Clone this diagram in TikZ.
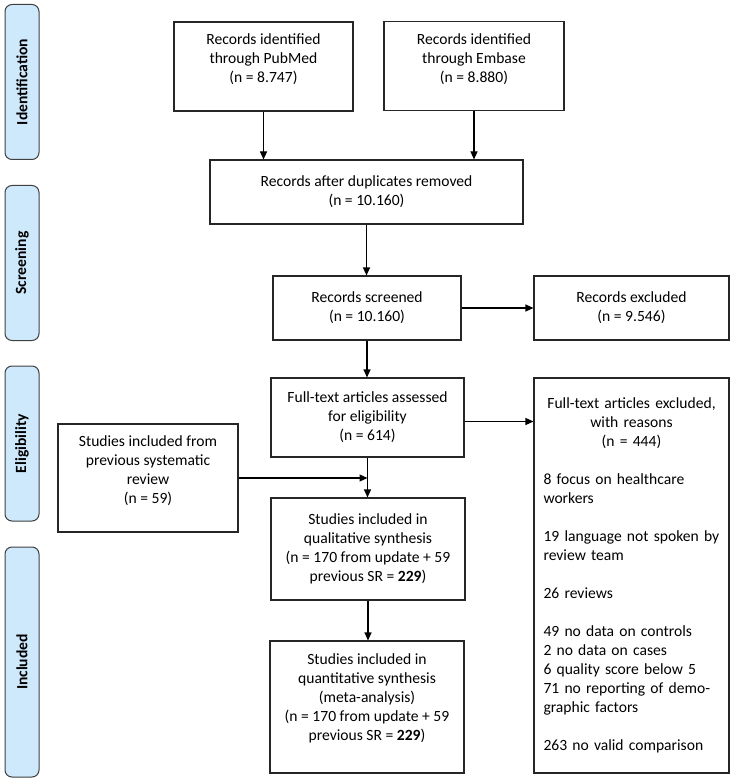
\documentclass[tikz,border=0pt]{standalone}
\usepackage{fontspec}
\setmainfont{Carlito}
\usepackage{tikz}
\usetikzlibrary{positioning}
\usetikzlibrary{arrows.meta}
\definecolor{phaseblue}{RGB}{206,232,252}
\newcommand{\midline}[1]{\makebox[176pt]{#1}}

\begin{document}
\begin{tikzpicture}[x=1pt, y=-1pt,
  box/.style={draw=black!85, line width=1.1pt, align=center, inner sep=0pt, font=\fontsize{15.6}{19}\selectfont},
  phase/.style={draw=black!75, line width=1pt, fill=phaseblue, rounded corners=7pt, rotate=90, minimum width=155pt, minimum height=34pt, inner sep=0pt, font=\fontsize{15.6}{19}\selectfont\bfseries},
  flow/.style={->, >={Triangle[length=8pt,width=7pt]}, line width=1.1pt, color=black}]
\useasboundingbox (0,0) rectangle (735,783);

\node(I)[phase] at (22,82) {Identification};
\node(S)[phase] at (22,263) {Screening};
\node(E)[phase] at (22,443.5) {Eligibility};
\node(N)[phase, minimum width=230pt] at (22,662) {Included};

\node(pub)[box, minimum width=179pt, minimum height=89pt] at (263.5,66.5) {Records identified\\through PubMed\\(n = 8.747)\\[-8pt]\strut};
\node(emb)[box, minimum width=180pt, minimum height=89pt] at (474,66) {Records identified\\through Embase\\(n = 8.880)\\[-8pt]\strut};
\node(dup)[box, minimum width=313pt, minimum height=64pt] at (366.5,192) {Records after duplicates removed\\(n = 10.160)};
\node(scr)[box, minimum width=188pt, minimum height=64pt] at (367,308) {Records screened\\(n = 10.160)};
\node(exc)[box, minimum width=195pt, minimum height=64pt] at (631.5,308) {Records excluded\\(n = 9.546)};
\node(full)[box, minimum width=193pt, minimum height=79pt] at (367.5,417.5) {Full-text articles assessed\\for eligibility\\(n = 614)};
\node(prev)[box, minimum width=180pt, minimum height=108pt] at (148,478) {Studies included from\\previous systematic\\review\\(n = 59)\\[-8pt]\strut};
\node(qual)[box, minimum width=194pt, minimum height=102pt] at (368,549) {Studies included in\\qualitative synthesis\\(n = 170 from update + 59\\previous SR = \textbf{229})};
\node(quant)[box, minimum width=194pt, minimum height=132pt] at (367,707) {Studies included in\\quantitative synthesis\\(meta-analysis)\\(n = 170 from update + 59\\previous SR = \textbf{229})\\[-5pt]\strut};

\node(why)[box, align=left, text width=176pt, inner xsep=9.5pt, minimum height=395pt] at (631.5,575.5)
  {\midline{Full-text articles excluded,}\\\midline{with reasons}\\\midline{(n = 444)}\\[19pt]
   8 focus on healthcare\\workers\\[19pt]
   19 language not spoken by\\review team\\[19pt]
   26 reviews\\[19pt]
   49 no data on controls\\2 no data on cases\\6 quality score below 5\\71 no reporting of demo-\\graphic factors\\[19pt]
   263 no valid comparison};

\draw[flow] (pub.south)--(pub.south |- dup.north);
\draw[flow] (emb.south)--(emb.south |- dup.north);
\draw[flow] (dup.south)--(dup.south |- scr.north);
\draw[flow] (scr)--(exc);
\draw[flow] (scr.south)--(scr.south |- full.north);
\draw[flow] ([yshift=-4pt]full.east)--([yshift=-4pt]full.east -| why.west);
\draw[flow] (full.south)--(full.south |- qual.north);

\coordinate(join) at (full.south |- prev.east);
\draw[flow] (prev.east)--(join);
\draw[flow] (qual.south)--(qual.south |- quant.north);
\end{tikzpicture}
\end{document}
